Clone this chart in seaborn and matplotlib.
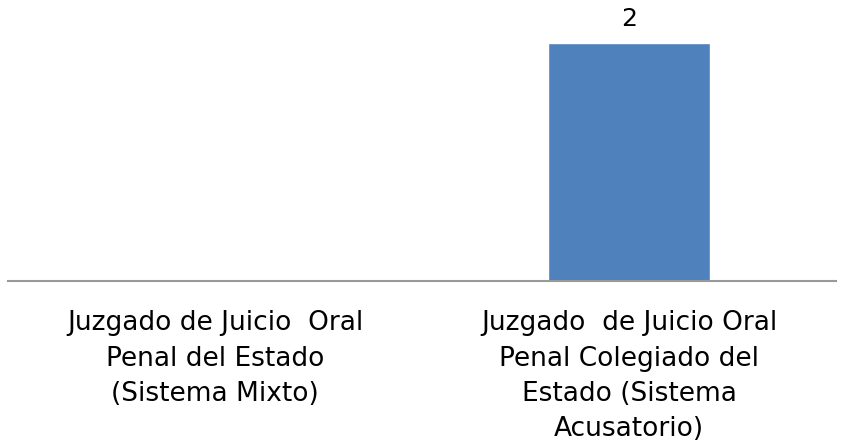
import matplotlib
matplotlib.use("Agg")
import matplotlib.pyplot as plt
import seaborn as sns
import pandas as pd

categories = [
    "Juzgado de Juicio Oral Penal del Estado (Sistema Mixto)",
    "Juzgado de Juicio Oral Penal Colegiado del Estado (Sistema Acusatorio)",
]
tick_labels = [
    "Juzgado de Juicio  Oral\nPenal del Estado\n(Sistema Mixto)",
    "Juzgado  de Juicio Oral\nPenal Colegiado del\nEstado (Sistema\nAcusatorio)",
]
values = [0, 2]

sns.set_theme(style="white")
plt.rcParams["font.family"] = ["DejaVu Sans"]

df = pd.DataFrame({"cat": categories, "val": values})

fig = plt.figure(figsize=(8.42, 4.44), dpi=100)
ax = fig.add_axes([8 / 842, 163 / 444, 828 / 842, 281 / 444])
sns.barplot(data=df, x="cat", y="val", color="#4F81BD", width=0.39,
            saturation=1, ax=ax)
ax.set_ylim(0, 281 / 119)
ax.set_xlim(-0.5, 1.5)

for c in ax.containers:
    labels = [f"{v:g}" if v else "" for v in values]
    ax.bar_label(c, labels=labels, padding=9, fontsize=18, color="black")

ax.set_xticks(range(len(tick_labels)))
ax.set_xticklabels(tick_labels, fontsize=19, linespacing=1.47, color="black")
ax.tick_params(axis="x", length=0, pad=21)
ax.set_yticks([])
ax.set_xlabel("")
ax.set_ylabel("")
for s in ["top", "right", "left"]:
    ax.spines[s].set_visible(False)
ax.spines["bottom"].set_color("#999999")
ax.spines["bottom"].set_linewidth(1.5)

fig.savefig("out.png", dpi=100)
